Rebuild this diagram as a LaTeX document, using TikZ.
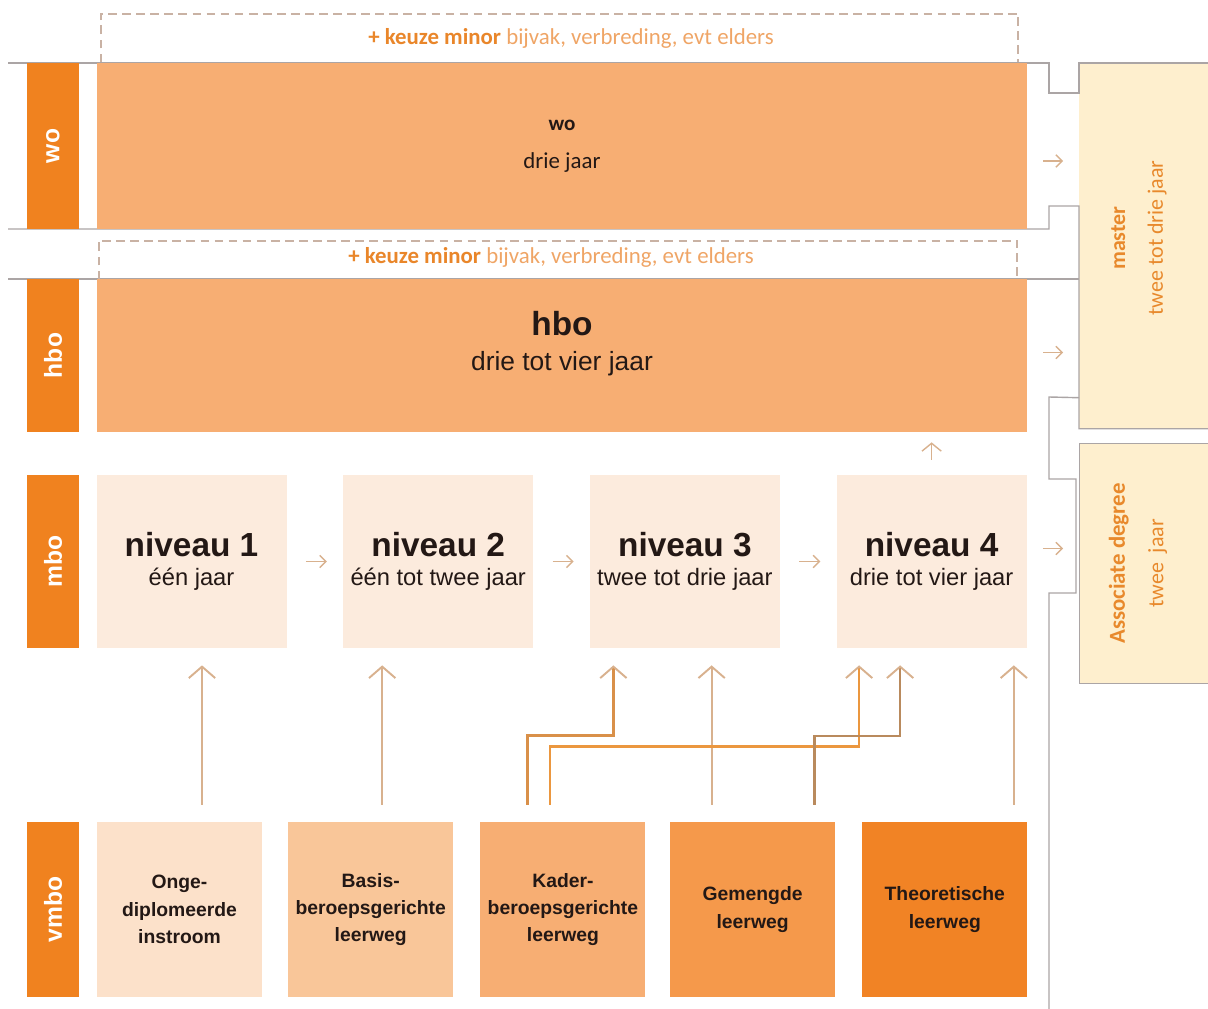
\documentclass[tikz,border=0pt]{standalone}
\usepackage{fontspec}
\setmainfont{Liberation Sans}
\newfontfamily\carlito{Carlito}
\usetikzlibrary{arrows.meta, positioning, calc}
\definecolor{labelorange}{HTML}{F0821F}
\definecolor{bandorange}{HTML}{F7AE73}
\definecolor{niveaufill}{HTML}{FCEBDD}
\definecolor{creamfill}{HTML}{FEEFCE}
\definecolor{mastertext}{HTML}{E8892C}
\definecolor{keuzebold}{HTML}{E9862A}
\definecolor{keuzelight}{HTML}{EFA566}
\definecolor{vmbofillA}{HTML}{FCE1CA}
\definecolor{vmbofillB}{HTML}{F9C699}
\definecolor{vmbofillC}{HTML}{F7AE73}
\definecolor{vmbofillD}{HTML}{F5994B}
\definecolor{vmbofillE}{HTML}{F18325}
\definecolor{arrowtan}{HTML}{D8B18E}
\definecolor{linegray}{HTML}{ABA5A5}
\definecolor{dashtan}{HTML}{C9B2A4}
\definecolor{kaderlineA}{HTML}{D99049}
\definecolor{kaderlineB}{HTML}{EB973F}
\definecolor{gemengdline}{HTML}{B98A5D}
\definecolor{textdark}{HTML}{231815}
\tikzstyle{sidelabel} = [rectangle, fill=labelorange, text=white, rotate=90, minimum height=1.04cm, font=\bfseries\fontsize{14}{16}\selectfont]
\tikzstyle{band} = [rectangle, fill=bandorange, minimum width=18.6cm, align=center, text=textdark]
\tikzstyle{niveaubox} = [rectangle, fill=niveaufill, minimum width=3.8cm, minimum height=3.46cm, align=center, text=textdark, font=\fontsize{13.5}{16.4}\selectfont]
\tikzstyle{vmbobox} = [rectangle, minimum width=3.3cm, minimum height=3.5cm, align=center, text=textdark, font=\bfseries\fontsize{11}{15.6}\selectfont]
\tikzstyle{sidepanel} = [rectangle, fill=creamfill, minimum width=2.82cm]
\tikzstyle{minorbox} = [rectangle, font=\carlito\fontsize{13}{15}\selectfont, text=keuzelight]
\tikzstyle{dashbox} = [draw=dashtan, line width=1.1pt, dash pattern=on 5pt off 3pt]
\tikzstyle{grayline} = [draw=linegray, line width=0.8pt]
\tikzstyle{smallarrow} = [-{Straight Barb[length=3.5pt,width=7pt]}, line width=0.8pt, draw=arrowtan]
\tikzstyle{uparrow} = [-{Straight Barb[length=6.5pt,width=15pt,color=arrowtan,line width=1.1pt]}, line width=1.1pt, draw=arrowtan, shorten <=0.34cm, shorten >=0.34cm]

\begin{document}
\begin{tikzpicture}[every node/.style={inner sep=0pt}]
    \useasboundingbox (0,0) rectangle (24.16,-20.18);

    % right side: master and associate degree
    \node[sidepanel, minimum height=7.3cm, anchor=north west] (master) at (21.58,-1.26) {};
    \node[sidepanel, draw=linegray, line width=0.8pt, minimum height=4.8cm, anchor=north west] (assoc) at (21.58,-8.86) {};
    \node[rotate=90, align=center, text=mastertext, font=\carlito\fontsize{12.5}{21.5}\selectfont] (mastertxt) at (22.78,-4.76) {\textbf{master}\\twee tot drie jaar};
    \node[rotate=90, align=center, text=mastertext, font=\carlito\fontsize{12.5}{22}\selectfont] (assoctxt) at (22.76,-11.27) {\textbf{\fontsize{13}{15}\selectfont Associate degree}\\twee\ \ jaar};

    % frame lines
    \draw[grayline] (0.16,-1.26) -- (20.98,-1.26) -- (20.98,-1.86) -- ([yshift=-0.6cm]master.north west) -- (master.north west) -- ([xshift=1cm]master.north east);
    \draw[grayline] (0.16,-4.58) -- (20.98,-4.58) -- (20.98,-4.12) -- ([yshift=-2.86cm]master.north west) |- ([xshift=1cm]master.south east);
    \draw[grayline] (0.16,-5.58) -- (21.58,-5.58);
    \draw[grayline] ([yshift=0.62cm]master.south west) -- (20.98,-7.94) -- (20.98,-9.58) -- (21.52,-9.58) -- (21.52,-11.86) -- (20.98,-11.86) -- (20.98,-20.3);

    % keuze minor
    \node[minorbox, minimum width=18.34cm, minimum height=0.96cm] (minor1) at (11.19,-0.76) {};
    \node[minorbox] (minor1txt) at (11.42,-0.76) {\textbf{\color{keuzebold}+ keuze minor} bijvak, verbreding, evt elders};
    \draw[dashbox] (minor1.south west) -- (minor1.north west) -- (minor1.north east) -- (minor1.south east);
    \node[minorbox, minimum width=18.36cm, minimum height=0.76cm] (minor2) at (11.16,-5.2) {};
    \node[minorbox] (minor2txt) at (11.02,-5.14) {\textbf{\color{keuzebold}+ keuze minor} bijvak, verbreding, evt elders};
    \draw[dashbox] (minor2.south west) -- (minor2.north west) -- (minor2.north east) -- (minor2.south east);

    % levels
    \node[sidelabel, minimum width=3.32cm] (wolbl) at (1.06,-2.92) {wo};
    \node[sidelabel, minimum width=3.06cm] (hbolbl) at (1.06,-7.11) {hbo};
    \node[sidelabel, minimum width=3.46cm] (mbolbl) at (1.06,-11.23) {mbo};
    \node[sidelabel, minimum width=3.5cm] (vmbolbl) at (1.06,-18.19) {vmbo};

    \node[band, minimum height=3.32cm, font=\carlito\fontsize{13}{21.5}\selectfont] (wo) at (11.24,-2.92) {{\bfseries\fontsize{12}{14}\selectfont wo}\\drie jaar};
    \node[band, minimum height=3.06cm] (hbo) at (11.24,-7.11) {};
    \node[align=center, text=textdark, font=\fontsize{15}{19.8}\selectfont] (hbotxt) at ([yshift=0.24cm]hbo.center) {{\bfseries\fontsize{19}{22}\selectfont hbo}\\drie tot vier jaar};

    \node[niveaubox] (n1) at (3.83,-11.23) {{\bfseries\fontsize{19}{22}\selectfont niveau 1}\\één jaar};
    \node[niveaubox, right=1.12cm of n1] (n2) {{\bfseries\fontsize{19}{22}\selectfont niveau 2}\\één tot twee jaar};
    \node[niveaubox, right=1.12cm of n2] (n3) {{\bfseries\fontsize{19}{22}\selectfont niveau 3}\\twee tot drie jaar};
    \node[niveaubox, right=1.12cm of n3] (n4) {{\bfseries\fontsize{19}{22}\selectfont niveau 4}\\drie tot vier jaar};

    \node[vmbobox, fill=vmbofillA] (onge) at (3.59,-18.19) {Onge-\\diplomeerde\\instroom};
    \node[vmbobox, fill=vmbofillB, right=0.51cm of onge] (basis) {Basis-\\beroepsgerichte\\leerweg};
    \node[vmbobox, fill=vmbofillC, right=0.53cm of basis] (kader) {Kader-\\beroepsgerichte\\leerweg};
    \node[vmbobox, fill=vmbofillD, right=0.48cm of kader] (gemengd) {Gemengde\\leerweg};
    \node[vmbobox, fill=vmbofillE, right=0.53cm of gemengd] (theor) {Theoretische\\leerweg};

    % arrows
    \draw[smallarrow, shorten <=0.38cm, shorten >=0.32cm] (n1) -- (n2);
    \draw[smallarrow, shorten <=0.38cm, shorten >=0.32cm] (n2) -- (n3);
    \draw[smallarrow, shorten <=0.38cm, shorten >=0.32cm] (n3) -- (n4);
    \draw[smallarrow, shorten <=0.32cm, shorten >=0.32cm] ([yshift=-0.3cm]wo.east) -- ([yshift=-0.3cm]wo.east -| master.west);
    \draw[smallarrow, shorten <=0.32cm, shorten >=0.32cm] ([yshift=0.06cm]hbo.east) -- ([yshift=0.06cm]hbo.east -| master.west);
    \draw[smallarrow, shorten <=0.32cm, shorten >=0.32cm] ([yshift=0.26cm]n4.east) -- ([yshift=0.26cm]n4.east -| assoc.west);
    \draw[-{Straight Barb[length=4.5pt,width=11pt]}, line width=0.8pt, draw=arrowtan, shorten <=0.3cm, shorten >=0.2cm] (n4.north) -- (n4.north |- hbo.south);

    \draw[uparrow] ([xshift=0.45cm]onge.north) -- ([xshift=0.45cm]onge.north |- n1.south);
    \draw[uparrow] ([xshift=0.23cm]basis.north) -- ([xshift=0.23cm]basis.north |- n2.south);
    \draw[uparrow] ([xshift=-0.82cm]gemengd.north) -- ([xshift=-0.82cm]gemengd.north |- n3.south);
    \draw[uparrow] ([xshift=1.38cm]theor.north) -- ([xshift=1.38cm]theor.north |- n4.south);
    \draw[uparrow, draw=kaderlineA, line width=1.7pt] ([xshift=-0.7cm]kader.north) -- ++(0,1.72) -| ([xshift=-1.43cm]n3.south);
    \draw[uparrow, draw=kaderlineB, line width=1.4pt] ([xshift=-0.26cm]kader.north) -- ++(0,1.5) -| ([xshift=-1.45cm]n4.south);
    \draw[uparrow, draw=gemengdline, line width=1.3pt] ([xshift=1.24cm]gemengd.north) -- ++(0,1.72) -| ([xshift=-0.63cm]n4.south);
\end{tikzpicture}
\end{document}
